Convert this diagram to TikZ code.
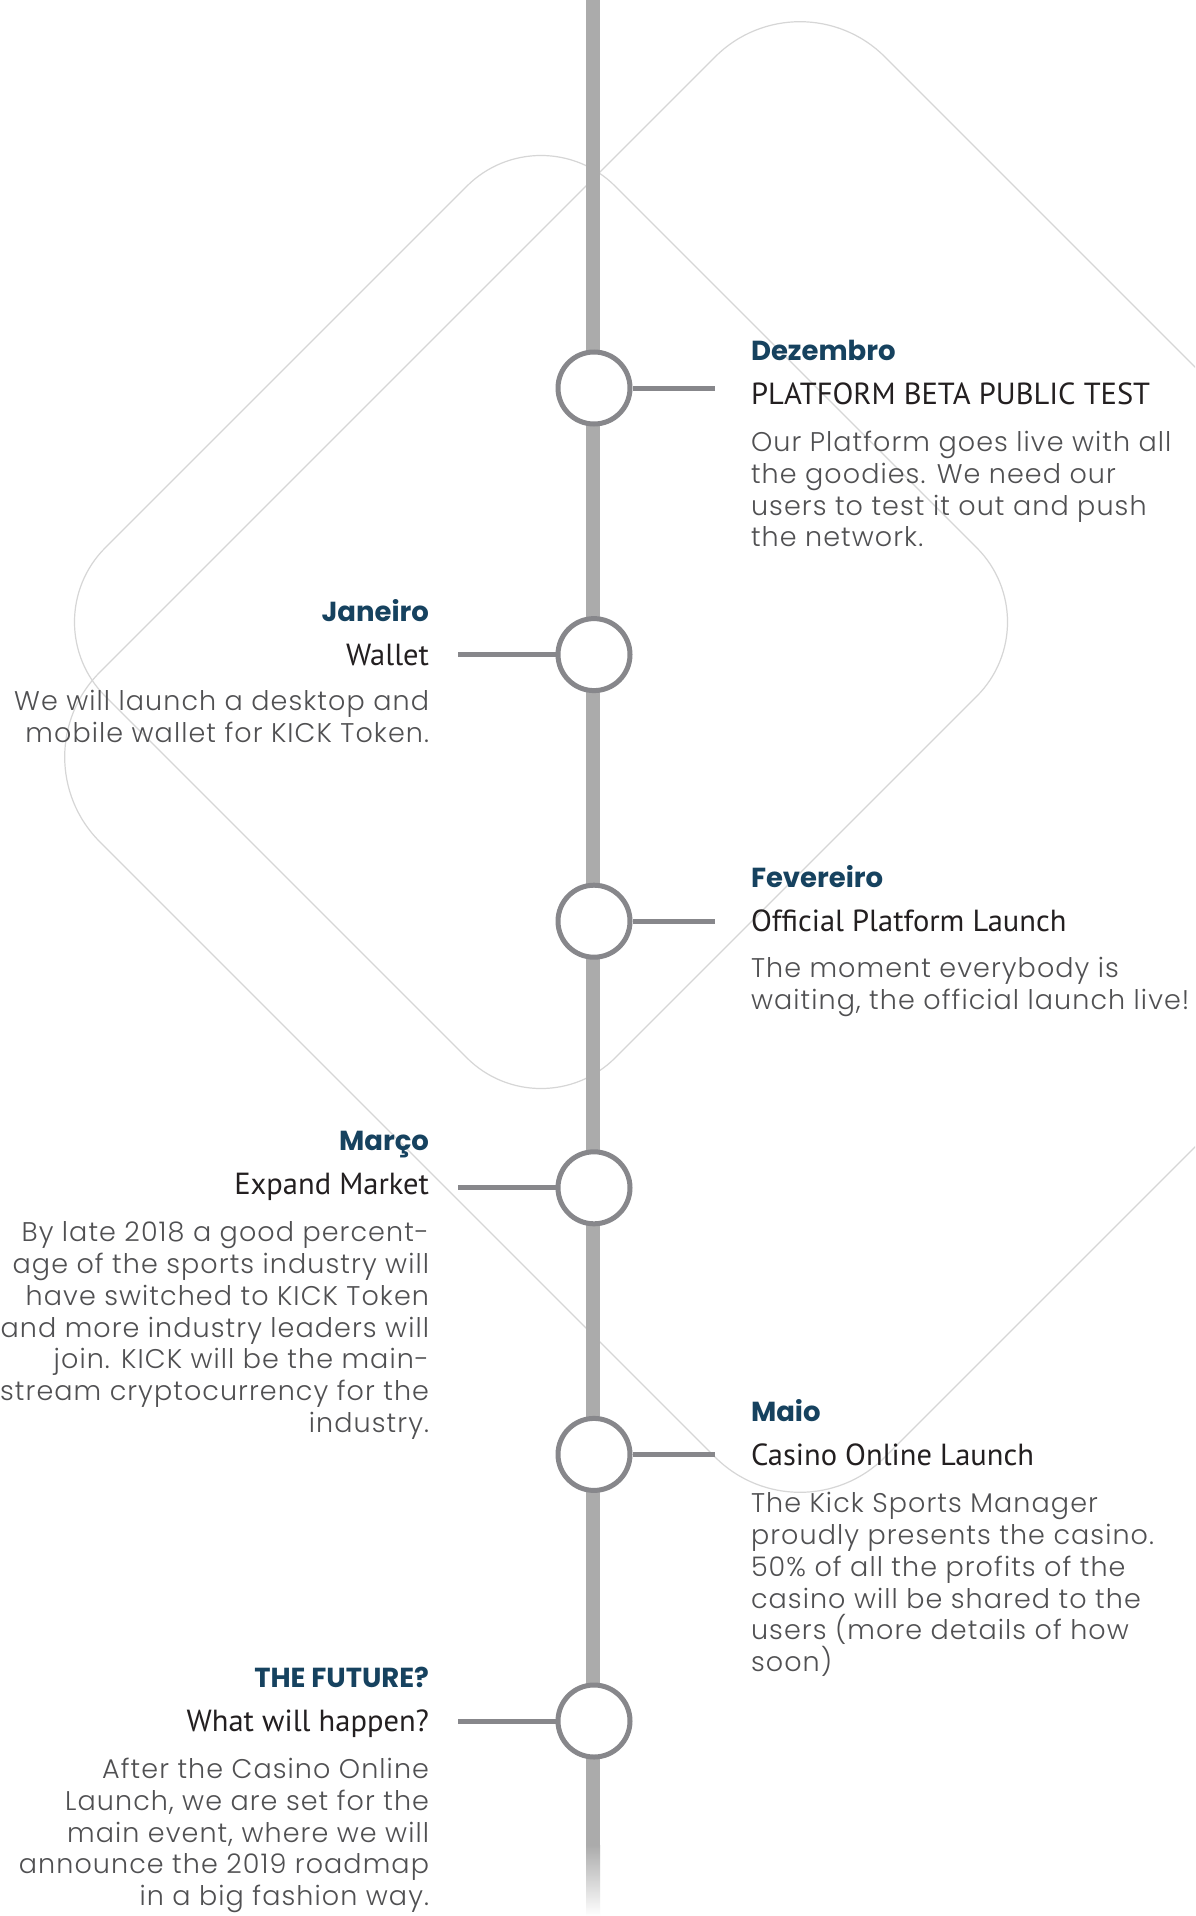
\documentclass[tikz,border=0pt]{standalone}
\usepackage{fontspec}
\usetikzlibrary{positioning}
\newfontfamily\monthfont{Poppins}
\newfontfamily\headfont{PT Sans}
\IfFontExistsTF{Poppins Light}{\newfontfamily\bodyfont[LetterSpace=4]{Poppins Light}}{\newfontfamily\bodyfont[LetterSpace=4]{Poppins}}
\definecolor{barcol}{HTML}{ABABAB}
\definecolor{dotcol}{HTML}{87878B}
\definecolor{monthcol}{HTML}{16425F}
\definecolor{headcol}{HTML}{231F20}
\definecolor{bodycol}{HTML}{505052}
\definecolor{decocol}{HTML}{D6D6D6}
\tikzset{
	dot/.style={circle, draw=dotcol, line width=5pt, fill=white, minimum size=72pt, inner sep=0pt},
	tick/.style={draw=dotcol, line width=5pt},
	bar/.style={draw=barcol, line width=14pt},
	deco/.style={draw=decocol, line width=1.2pt},
	month/.style={inner sep=0pt, outer sep=0pt, text depth=0pt, text=monthcol, font=\monthfont\bfseries\fontsize{27.5pt}{30pt}\selectfont},
	head/.style={inner sep=0pt, outer sep=0pt, text height=22pt, text depth=0pt, text=headcol, font=\headfont\fontsize{30.5pt}{34pt}\selectfont},
	body/.style={inner sep=0pt, outer sep=0pt, text=bodycol, font=\bodyfont\fontsize{27pt}{31.8pt}\selectfont},
}

\begin{document}
\begin{tikzpicture}[x=1pt, y=-1pt]
	\fill[white] (0,0) rectangle (1195,1916);
	\useasboundingbox (0,0) rectangle (1195,1916);
	\begin{scope}
		\clip (0,0) rectangle (1195,1916);
		% background diamonds
		\draw[deco, rounded corners=105pt] (286,367) -- (541,112) -- (1051,622) -- (541,1132) -- (31,622) -- (286,367);
		\draw[deco, rounded corners=120pt] (407,365) -- (800,-28) -- (1585,757) -- (800,1542) -- (15,757) -- (407,365);
	\end{scope}
	
	% timeline
	\coordinate (top) at (593,0);
	\coordinate (fade) at (593,1845);
	\draw[bar] (top) -- (fade);
	\shade[top color=barcol, bottom color=white] (586,1845) rectangle (600,1916);
	
	\foreach \i in {1,...,6}
		\node[dot] (c\i) at (594,{388+266.6*(\i-1)}) {};
	\foreach \i/\x in {1/715, 2/458, 3/715, 4/458, 5/715, 6/458}
		\coordinate (e\i) at (\x,{388+266.6*(\i-1)});
	\foreach \i in {1,3,5}
		\draw[tick] (c\i) -- (e\i);
	\foreach \i in {2,4,6}
		\draw[tick] (e\i) -- (c\i);
	
	% right side
	\node[head, right=36pt of e1, yshift=-5pt] (h1) {PLATFORM BETA PUBLIC TEST};
	\node[month, above right=22pt and 0pt of h1.north west] (m1) {Dezembro};
	\node[body, align=left, below right=27pt and 0pt of h1.south west] (b1) {Our Platform goes live with all\\the goodies. We need our\\users to test it out and push\\the network.};
	
	\node[head, right=36pt of e3, yshift=1pt] (h3) {Official Platform Launch};
	\node[month, above right=22pt and 0pt of h3.north west] (m3) {Fevereiro};
	\node[body, align=left, below right=26pt and 0pt of h3.south west] (b3) {The moment everybody is\\waiting, the official launch live!};
	
	\node[head, right=36pt of e5] (h5) {Casino Online Launch};
	\node[month, above right=22pt and 0pt of h5.north west] (m5) {Maio};
	\node[body, align=left, below right=27pt and 0pt of h5.south west] (b5) {The Kick Sports Manager\\proudly presents the casino.\\50\% of all the profits of the\\casino will be shared to the\\users (more details of how\\soon)};
	
	% left side
	\node[head, left=29pt of e2] (h2) {Wallet};
	\node[month, above left=22pt and 0pt of h2.north east] (m2) {Janeiro};
	\node[body, align=right, below left=25pt and 0pt of h2.south east] (b2) {We will launch a desktop and\\mobile wallet for KICK Token.};
	
	\node[head, left=29pt of e4, yshift=4pt] (h4) {Expand Market};
	\node[month, above left=22pt and 0pt of h4.north east] (m4) {Março};
	\node[body, align=right, below left=27pt and 0pt of h4.south east] (b4) {By late 2018 a good percent-\\age of the sports industry will\\have switched to KICK Token\\and more industry leaders will\\join. KICK will be the main-\\stream cryptocurrency for the\\industry.};
	
	\node[head, left=29pt of e6, yshift=1pt] (h6) {What will happen?};
	\node[month, above left=22pt and 0pt of h6.north east] (m6) {THE FUTURE?};
	\node[body, align=right, below left=27pt and 0pt of h6.south east] (b6) {After the Casino Online\\Launch, we are set for the\\main event, where we will\\announce the 2019 roadmap\\in a big fashion way.};
\end{tikzpicture}
\end{document}
